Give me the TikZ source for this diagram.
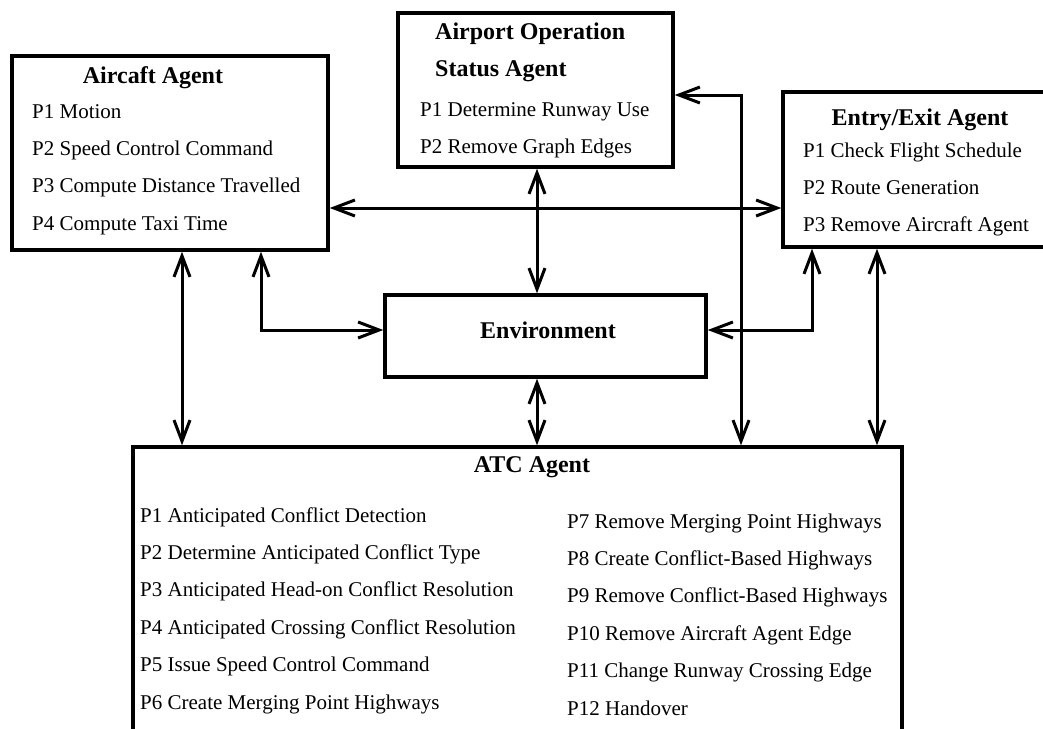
\documentclass[tikz,border=0pt]{standalone}
\usepackage{fontspec}
\setmainfont{Liberation Serif}
\usetikzlibrary{arrows.meta, positioning}
\tikzstyle{agent} = [rectangle, draw=black, line width=3.4pt, inner sep=0pt]
\tikzstyle{title} = [inner sep=0pt, font=\fontsize{24}{28}\selectfont\bfseries]
\tikzstyle{item} = [inner sep=0pt, text height=26pt, text depth=11pt, anchor=base west, font=\fontsize{21}{25}\selectfont]
\tikzstyle{arrow} = [line width=3pt, <->, >={Straight Barb[length=21pt,width=16pt]}]

\begin{document}
\begin{tikzpicture}[x=1pt, y=-1pt]
\useasboundingbox (0,0) rectangle (1043,728);
\clip (0,0) rectangle (1043,728);

% Agents
\node (aircraft) [agent, minimum width=316pt, minimum height=194pt] at (170,153) {};
\node (airport) [agent, minimum width=275pt, minimum height=154pt] at (535.5,90) {};
\node (entry) [agent, minimum width=277pt, minimum height=155pt] at (921.5,169.5) {};
\node (env) [agent, minimum width=321pt, minimum height=82pt] at (545.5,336) {};
\node (atc) [agent, minimum width=769pt, minimum height=323pt] at (517.5,608.5) {};

% Titles
\node (aircraft-title) [title, anchor=base] at (153,83) {Aircaft Agent};
\node (airport-title1) [title, anchor=base west] at (435,39) {Airport Operation};
\node (airport-title2) [title, anchor=base west] at (435,76) {Status Agent};
\node (entry-title) [title, anchor=base] at (920,125) {Entry/Exit Agent};
\node (env-title) [title, anchor=base] at (548,338) {Environment};
\node (atc-title) [title, anchor=base] at (532,472) {ATC Agent};

% Aircraft agent processes
\node (aircraft-p1) [item] at (32,118) {P1 Motion};
\node (aircraft-p2) [item, below right=0pt and 0pt of aircraft-p1.south west] {P2 Speed Control Command};
\node (aircraft-p3) [item, below right=0pt and 0pt of aircraft-p2.south west] {P3 Compute Distance Travelled};
\node (aircraft-p4) [item, below right=0pt and 0pt of aircraft-p3.south west] {P4 Compute Taxi Time};

% Airport operation status processes
\node (airport-p1) [item] at (420,116) {P1 Determine Runway Use};
\node (airport-p2) [item, below right=0pt and 0pt of airport-p1.south west] {P2 Remove Graph Edges};

% Entry/exit processes
\node (entry-p1) [item] at (803,157) {P1 Check Flight Schedule};
\node (entry-p2) [item, below right=0pt and 0pt of entry-p1.south west] {P2 Route Generation};
\node (entry-p3) [item, below right=0pt and 0pt of entry-p2.south west] {P3 Remove Aircraft Agent};

% ATC processes, left column
\node (atc-p1) [item] at (140,522) {P1 Anticipated Conflict Detection};
\node (atc-p2) [item, below right=0pt and 0pt of atc-p1.south west] {P2 Determine Anticipated Conflict Type};
\node (atc-p3) [item, below right=0pt and 0pt of atc-p2.south west] {P3 Anticipated Head-on Conflict Resolution};
\node (atc-p4) [item, below right=0pt and 0pt of atc-p3.south west] {P4 Anticipated Crossing Conflict Resolution};
\node (atc-p5) [item, below right=0pt and 0pt of atc-p4.south west] {P5 Issue Speed Control Command};
\node (atc-p6) [item, below right=0pt and 0pt of atc-p5.south west] {P6 Create Merging Point Highways};

% ATC processes, right column
\node (atc-p7) [item] at (567,528) {P7 Remove Merging Point Highways};
\node (atc-p8) [item, below right=0pt and 0pt of atc-p7.south west] {P8 Create Conflict-Based Highways};
\node (atc-p9) [item, below right=0pt and 0pt of atc-p8.south west] {P9 Remove Conflict-Based Highways};
\node (atc-p10) [item, below right=0pt and 0pt of atc-p9.south west] {P10 Remove Aircraft Agent Edge};
\node (atc-p11) [item, below right=0pt and 0pt of atc-p10.south west] {P11 Change Runway Crossing Edge};
\node (atc-p12) [item, below right=0pt and 0pt of atc-p11.south west] {P12 Handover};

% Helper points for the lines
\coordinate (x182) at (182,0);
\coordinate (x261) at (261,0);
\coordinate (x537) at (537,0);
\coordinate (x741) at (741,0);
\coordinate (x812) at (812,0);
\coordinate (x877) at (877,0);
\coordinate (y95) at (0,95);
\coordinate (y208) at (0,208);
\coordinate (y330) at (0,330);

% Arrows
\draw [arrow] (aircraft.east |- y208) -- (entry.west |- y208);
\draw [arrow] (airport.south -| x537) -- (env.north -| x537);
\draw [arrow] (env.south -| x537) -- (atc.north -| x537);
\draw [arrow] (aircraft.south -| x182) -- (atc.north -| x182);
\draw [arrow] (aircraft.south -| x261) |- (env.west |- y330);
\draw [arrow] (entry.south -| x812) |- (env.east |- y330);
\draw [arrow] (entry.south -| x877) -- (atc.north -| x877);
\draw [arrow] (airport.east |- y95) -| (atc.north -| x741);

\end{tikzpicture}
\end{document}
